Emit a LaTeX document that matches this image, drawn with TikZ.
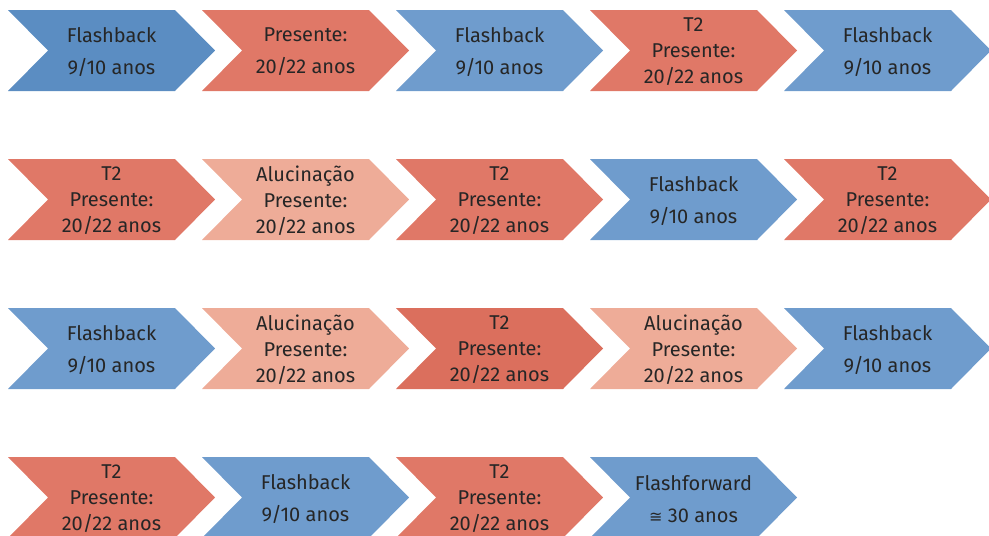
\documentclass[tikz,border=0pt]{standalone}
\usepackage{fontspec}
\setmainfont{Fira Sans}
\newfontfamily\symfont{DejaVu Sans}
\definecolor{blueA}{HTML}{5B8DC2}
\definecolor{blueB}{HTML}{6F9CCD}
\definecolor{redA}{HTML}{E07867}
\definecolor{redB}{HTML}{DB6F5D}
\definecolor{paleA}{HTML}{EEAC98}
\definecolor{ink}{HTML}{262626}
\tikzset{
  chevtext/.style={align=center, text=ink, inner sep=0pt},
  twoline/.style={chevtext, font=\fontsize{20}{32}\selectfont},
  threeline/.style={chevtext, font=\fontsize{20}{26}\selectfont},
}
% #1 name, #2 left, #3 top, #4 fill, #5 text style, #6 text
\newcommand\chevbox[6]{%
  \fill[#4] (#2,#3) -- ++(167,0) -- ++(40,40.5) -- ++(-40,40.5) -- ++(-167,0) -- ++(40,-40.5) -- cycle;
  \node[#5] (#1) at ({#2+103.5},{#3+42}) {#6};
}
\begin{document}
\begin{tikzpicture}[x=1pt,y=-1pt]
  \useasboundingbox (0,0) rectangle (989,536);
  \clip (0,0) rectangle (989,536);
  % row 1
  \chevbox{a1}{8}{10}{blueA}{twoline}{Flashback\\9/10 anos}
  \chevbox{a2}{202}{10}{redA}{twoline}{Presente:\\20/22 anos}
  \chevbox{a3}{396}{10}{blueB}{twoline}{Flashback\\9/10 anos}
  \chevbox{a4}{590}{10}{redA}{threeline}{T2\\Presente:\\20/22 anos}
  \chevbox{a5}{784}{10}{blueB}{twoline}{Flashback\\9/10 anos}
  % row 2
  \chevbox{b1}{8}{159}{redA}{threeline}{T2\\Presente:\\20/22 anos}
  \chevbox{b2}{202}{159}{paleA}{threeline}{Alucinação\\Presente:\\20/22 anos}
  \chevbox{b3}{396}{159}{redA}{threeline}{T2\\Presente:\\20/22 anos}
  \chevbox{b4}{590}{159}{blueB}{twoline}{Flashback\\9/10 anos}
  \chevbox{b5}{784}{159}{redA}{threeline}{T2\\Presente:\\20/22 anos}
  % row 3
  \chevbox{c1}{8}{308}{blueB}{twoline}{Flashback\\9/10 anos}
  \chevbox{c2}{202}{308}{paleA}{threeline}{Alucinação\\Presente:\\20/22 anos}
  \chevbox{c3}{396}{308}{redB}{threeline}{T2\\Presente:\\20/22 anos}
  \chevbox{c4}{590}{308}{paleA}{threeline}{Alucinação\\Presente:\\20/22 anos}
  \chevbox{c5}{784}{308}{blueB}{twoline}{Flashback\\9/10 anos}
  % row 4
  \chevbox{d1}{8}{457}{redA}{threeline}{T2\\Presente:\\20/22 anos}
  \chevbox{d2}{202}{457}{blueB}{twoline}{Flashback\\9/10 anos}
  \chevbox{d3}{396}{457}{redA}{threeline}{T2\\Presente:\\20/22 anos}
  \chevbox{d4}{590}{457}{blueB}{twoline}{Flashforward\\{\symfont\fontsize{16}{16}\selectfont ≅} 30 anos}
\end{tikzpicture}
\end{document}
